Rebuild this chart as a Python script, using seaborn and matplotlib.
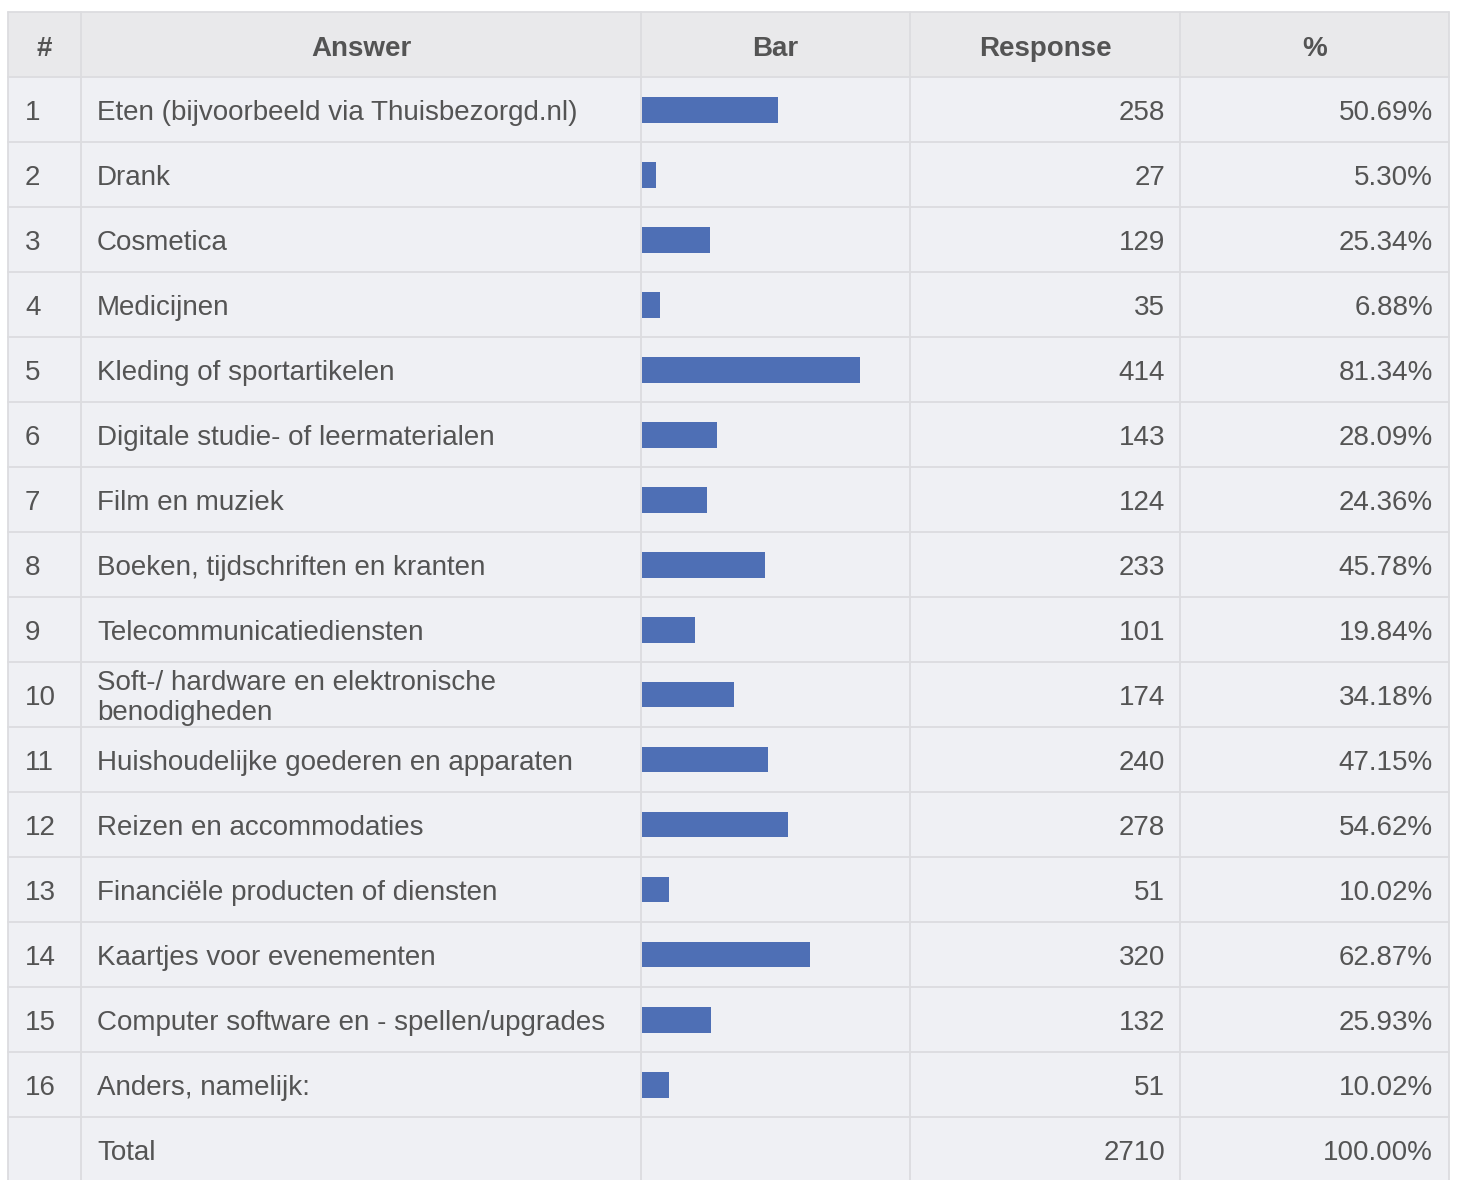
import matplotlib
matplotlib.use("Agg")
import matplotlib.pyplot as plt
import numpy as np
import pandas as pd
import seaborn as sns
from matplotlib.patches import Rectangle

answers = [
    "Eten (bijvoorbeeld via Thuisbezorgd.nl)",
    "Drank",
    "Cosmetica",
    "Medicijnen",
    "Kleding of sportartikelen",
    "Digitale studie- of leermaterialen",
    "Film en muziek",
    "Boeken, tijdschriften en kranten",
    "Telecommunicatiediensten",
    "Soft-/ hardware en elektronische\nbenodigheden",
    "Huishoudelijke goederen en apparaten",
    "Reizen en accommodaties",
    "Financiële producten of diensten",
    "Kaartjes voor evenementen",
    "Computer software en - spellen/upgrades",
    "Anders, namelijk:",
]
responses = [258, 27, 129, 35, 414, 143, 124, 233, 101, 174, 240, 278, 51, 320, 132, 51]
percents = [50.69, 5.30, 25.34, 6.88, 81.34, 28.09, 24.36, 45.78, 19.84, 34.18,
            47.15, 54.62, 10.02, 62.87, 25.93, 10.02]
headers = ["#", "Answer", "Bar", "Response", "%"]
total_response = 2710
total_percent = 100.00

W, H = 1457, 1180
col_edges = [8, 81, 641, 910, 1180, 1449]
top = 12
header_h = 65
row_h = 65

header_bg = "#e9e9eb"
body_bg = "#eff0f4"
line_c = "#dcdcdf"
text_c = "#545454"
bar_c = "#4e6fb5"
fs = 20

sns.set_style("white")
plt.rcParams["font.family"] = ["Liberation Sans", "DejaVu Sans"]

fig = plt.figure(figsize=(W / 100, H / 100), dpi=100)
ax = fig.add_axes([0, 0, 1, 1])
ax.set_xlim(0, W)
ax.set_ylim(H, 0)
ax.axis("off")

n = len(answers)
body_top = top + header_h
table_bottom = body_top + (n + 1) * row_h

# backgrounds
ax.add_patch(Rectangle((col_edges[0], top), col_edges[-1] - col_edges[0], header_h,
                       facecolor=header_bg, edgecolor="none"))
ax.add_patch(Rectangle((col_edges[0], body_top), col_edges[-1] - col_edges[0],
                       table_bottom - body_top, facecolor=body_bg, edgecolor="none"))

# grid lines
for xe in col_edges:
    ax.plot([xe, xe], [top, table_bottom], color=line_c, lw=1.3)
for i in range(n + 2):
    y = body_top + i * row_h
    ax.plot([col_edges[0], col_edges[-1]], [y, y], color=line_c, lw=1.3)
ax.plot([col_edges[0], col_edges[-1]], [top, top], color=line_c, lw=1.3)

# header
for k, h in enumerate(headers):
    cx = (col_edges[k] + col_edges[k + 1]) / 2
    ax.text(cx, top + header_h / 2 + 4, h, ha="center", va="center",
            fontsize=fs, fontweight="bold", color=text_c)

# body rows
for i in range(n):
    cy = body_top + i * row_h + row_h / 2 + 3.5
    ax.text(25, cy, str(i + 1), ha="left", va="center", fontsize=fs, color=text_c)
    ax.text(97, cy, answers[i], ha="left", va="center", fontsize=fs, color=text_c,
            linespacing=1.2)
    ax.text(1165, cy, str(responses[i]), ha="right", va="center", fontsize=fs, color=text_c)
    ax.text(1433, cy, f"{percents[i]:.2f}%", ha="right", va="center", fontsize=fs, color=text_c)

cy = body_top + n * row_h + row_h / 2 + 3.5
ax.text(97, cy, "Total", ha="left", va="center", fontsize=fs, color=text_c)
ax.text(1165, cy, str(total_response), ha="right", va="center", fontsize=fs, color=text_c)
ax.text(1433, cy, f"{total_percent:.2f}%", ha="right", va="center", fontsize=fs, color=text_c)

# bars in the Bar column
bx0 = col_edges[2] + 1
bw = col_edges[3] - bx0
bax = fig.add_axes([bx0 / W, 1 - (body_top + n * row_h) / H, bw / W, n * row_h / H])
df = pd.DataFrame({"answer": [str(i) for i in range(n)], "pct": percents})
sns.barplot(data=df, x="pct", y="answer", orient="h", color=bar_c, saturation=1,
            width=26 / 65, linewidth=0, ax=bax)
bax.set_xlim(0, 100)
bax.set_ylim(n - 0.5, -0.5)
bax.axis("off")
bax.patch.set_alpha(0)

fig.savefig("out.png", dpi=100, facecolor="white")
